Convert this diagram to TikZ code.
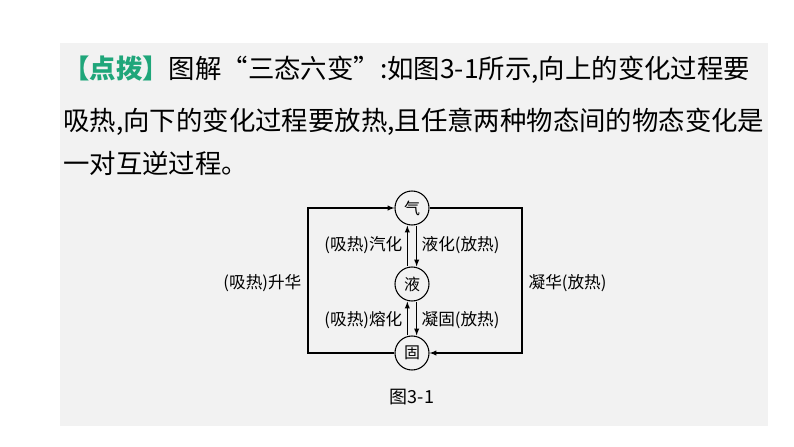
\documentclass[tikz,border=0pt]{standalone}
\usepackage{fontspec}
\setmainfont{Noto Sans CJK SC}
\newfontfamily\cjk{Noto Sans CJK SC}
\usetikzlibrary{arrows}
\definecolor{panelgray}{HTML}{F2F2F2}
\definecolor{tipgreen}{HTML}{1FA67A}
\tikzset{state/.style={draw,circle,thick,minimum size=25.5pt,inner sep=0pt,font=\fontsize{12pt}{14pt}\selectfont},
  lbl/.style={font=\fontsize{12.5pt}{14pt}\selectfont,inner sep=1pt},
  para/.style={anchor=west,inner sep=0pt,font=\fontsize{19.8pt}{24pt}\selectfont}}
\begin{document}
\begin{tikzpicture}[x=0.75pt,y=-0.75pt]
    \useasboundingbox (0,0) rectangle (794,447);
    \fill[panelgray] (60,43) rectangle (768,426);

    \node[para] (l1) at (63,70) {{\color{tipgreen}\bfseries 【点拨】}图解“三态六变”:如图3-1所示,向上的变化过程要};
    \node[para] (l2) at (63,122) {吸热,向下的变化过程要放热,且任意两种物态间的物态变化是};
    \node[para] (l3) at (63,163) {一对互逆过程。};

    \node[state] (gas) at (412,208) {气};
    \node[state] (liq) at (412,284) {液};
    \node[state] (sol) at (412,353) {固};
    \coordinate (tl) at (308,208);
    \coordinate (bl) at (308,353);
    \coordinate (tr) at (522,208);
    \coordinate (br) at (522,353);
    \draw[thick,-latex] ([xshift=-3.5pt]liq.north) -- ([xshift=-3.5pt]gas.south);
    \draw[thick,-latex] ([xshift=3.5pt]gas.south) -- ([xshift=3.5pt]liq.north);
    \draw[thick,-latex] ([xshift=-3.5pt]sol.north) -- ([xshift=-3.5pt]liq.south);
    \draw[thick,-latex] ([xshift=3.5pt]liq.south) -- ([xshift=3.5pt]sol.north);
    \draw[thick,-latex] (sol.west) -- (bl) -- (tl) -- (gas.west);
    \draw[thick,-latex] (gas.east) -- (tr) -- (br) -- (sol.east);

    \node[lbl,anchor=east] (vap) at (404,245) {(吸热)汽化};
    \node[lbl,anchor=west] (cond) at (420,245) {液化(放热)};
    \node[lbl,anchor=east] (melt) at (404,320) {(吸热)熔化};
    \node[lbl,anchor=west] (frz) at (420,320) {凝固(放热)};
    \node[lbl,anchor=east] (subl) at (303,283) {(吸热)升华};
    \node[lbl,anchor=west] (depo) at (527,283) {凝华(放热)};
    \node[lbl,font=\fontsize{13.5pt}{15pt}\selectfont] (cap) at (412,397) {图3-1};
\end{tikzpicture}
\end{document}
